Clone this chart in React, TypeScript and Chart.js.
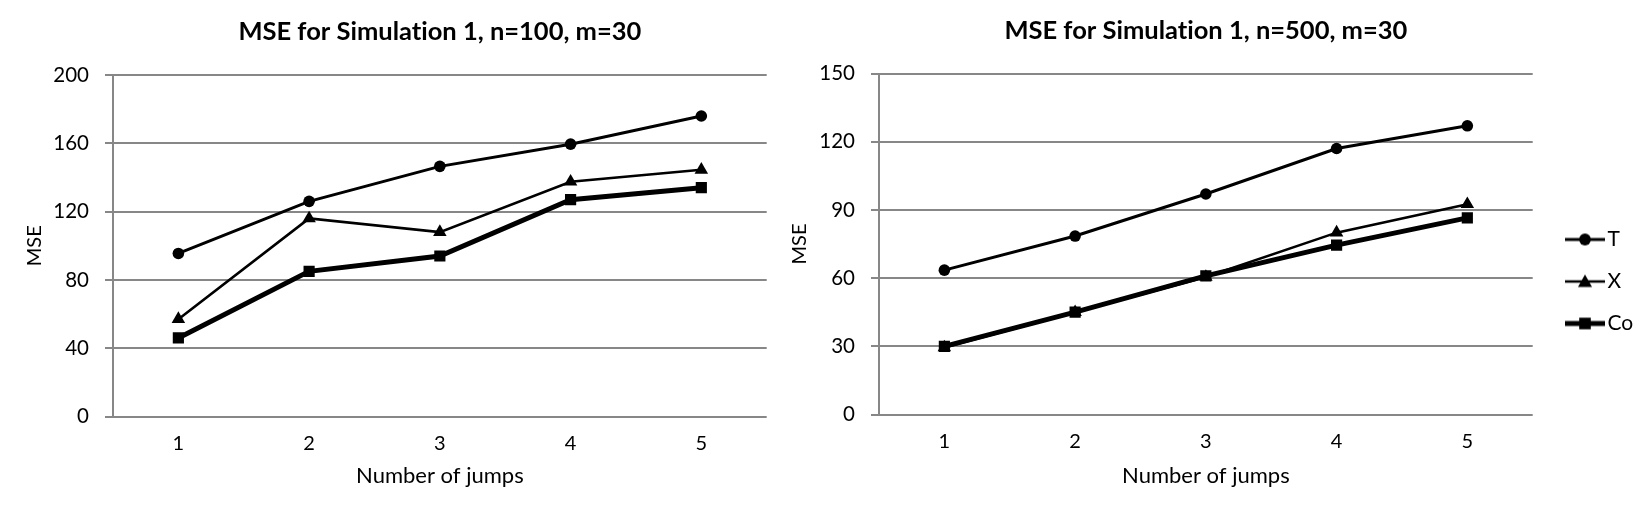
import React, { useEffect, useRef } from 'react';
import { Chart, registerables } from 'chart.js';

Chart.register(...registerables);

// ---------------- data ----------------
const categories = ['1', '2', '3', '4', '5'];
const seriesNames = ['T', 'X', 'Co'];

const leftT = [95.5, 126, 146.5, 159.5, 176];
const leftX = [57, 116, 108, 137.5, 144.5];
const leftCo = [46, 85, 94, 127, 134];

const rightT = [63.5, 78.5, 97, 117, 127];
const rightX = [29.5, 45, 60.5, 80, 92.5];
const rightCo = [30, 45, 61, 74.5, 86.5];

const leftTicks = [0, 40, 80, 120, 160, 200];
const rightTicks = [0, 30, 60, 90, 120, 150];

const leftTitle = 'MSE for Simulation 1, n=100, m=30';
const rightTitle = 'MSE for Simulation 1, n=500, m=30';
const xTitle = 'Number of jumps';
const yTitle = 'MSE';

// ---------------- styles ----------------
const FONT = 'Lato, "Liberation Sans", sans-serif';
const GRID = '#878787';
const H = 507;
const LEFT_W = 780;
const RIGHT_W = 864;

const seriesStyle = [
  { borderWidth: 3, pointStyle: 'circle', pointRadius: 5.8 },
  { borderWidth: 2.6, pointStyle: 'triangle', pointRadius: 7.8 },
  { borderWidth: 5, pointStyle: 'rect', pointRadius: 7.9 },
];

function makeLegendImage(i: number): HTMLCanvasElement {
  const c = document.createElement('canvas');
  c.width = 42;
  c.height = 18;
  const ctx = c.getContext('2d')!;
  const s = seriesStyle[i];
  ctx.fillStyle = '#000';
  ctx.strokeStyle = '#000';
  ctx.lineWidth = s.borderWidth;
  ctx.beginPath();
  ctx.moveTo(1, 9);
  ctx.lineTo(41, 9);
  ctx.stroke();
  ctx.beginPath();
  if (s.pointStyle === 'circle') {
    ctx.arc(21, 9, 5.9, 0, Math.PI * 2);
  } else if (s.pointStyle === 'triangle') {
    ctx.moveTo(21, 2);
    ctx.lineTo(28, 14.5);
    ctx.lineTo(14, 14.5);
    ctx.closePath();
  } else {
    ctx.rect(15.2, 3.2, 11.6, 11.6);
  }
  ctx.fill();
  return c;
}

interface Cfg {
  T: number[];
  X: number[];
  Co: number[];
  ticks: number[];
  title: string;
  width: number;
  yWidth: number;
  top: number;
  bottom: number;
  titleCenterY: number;
  yTitleCenterX: number;
  padRight: number;
  legend: boolean;
  legendImages?: HTMLCanvasElement[];
}

const LEGEND_LEFT = 772;
const LEGEND_TOP = 208;

const noLigatures = {
  id: 'noLigatures',
  beforeDraw(chart: any) {
    try {
      chart.ctx.textRendering = 'optimizeSpeed';
    } catch (e) {
      /* ignore */
    }
  },
};

function buildConfig(c: Cfg): any {
  const titleSize = 25.5;
  const titleLH = titleSize * 1.2;
  const titlePadTop = c.titleCenterY - titleLH / 2;
  const titlePadBottom = c.top - titleLH - titlePadTop;
  const yTitleLH = 20 * 1.2;
  const values = [c.T, c.X, c.Co];
  const datasets = values.map((v, i) => ({
    label: seriesNames[i],
    data: v,
    borderColor: '#000',
    backgroundColor: '#000',
    borderWidth: seriesStyle[i].borderWidth,
    pointStyle: seriesStyle[i].pointStyle,
    pointRadius: seriesStyle[i].pointRadius,
    pointBackgroundColor: '#000',
    pointBorderColor: '#000',
    pointBorderWidth: 0,
    tension: 0,
    fill: false,
    order: 3 - i,
  }));

  const plugins: any[] = [noLigatures];
  if (c.legend) {
    plugins.push({
      id: 'legendPlacer',
      afterLayout(chart: any) {
        const lg = chart.legend;
        if (!lg) return;
        const w = lg.width;
        const h = lg.height;
        lg.left = LEGEND_LEFT;
        lg.right = LEGEND_LEFT + w;
        lg.top = LEGEND_TOP;
        lg.bottom = LEGEND_TOP + h;
      },
    });
  }

  return {
    type: 'line',
    data: { labels: categories, datasets },
    plugins,
    options: {
      responsive: false,
      animation: false,
      devicePixelRatio: 1,
      events: [],
      color: '#000',
      layout: { padding: { left: 0, right: c.padRight, top: 0, bottom: 0 } },
      plugins: {
        tooltip: { enabled: false },
        title: {
          display: true,
          text: c.title,
          fullSize: false,
          color: '#000',
          font: { family: FONT, size: titleSize, weight: 'bold', lineHeight: 1.2 },
          padding: { top: titlePadTop, bottom: titlePadBottom },
        },
        legend: c.legend
          ? {
              display: true,
              position: 'right',
              align: 'start',
              labels: {
                usePointStyle: true,
                pointStyleWidth: 24,
                boxHeight: 20,
                padding: 21,
                color: '#000',
                font: { family: FONT, size: 21 },
                generateLabels: () =>
                  seriesNames.map((name, i) => ({
                    text: name,
                    pointStyle: c.legendImages![i],
                    fillStyle: '#000',
                    strokeStyle: '#000',
                    lineWidth: 0,
                    hidden: false,
                    datasetIndex: i,
                    fontColor: '#000',
                  })),
              },
            }
          : { display: false },
      },
      scales: {
        x: {
          type: 'category',
          offset: true,
          grid: { display: false, drawTicks: false },
          border: { display: false },
          ticks: {
            color: '#000',
            padding: 15,
            font: { family: FONT, size: 20 },
            maxRotation: 0,
          },
          title: {
            display: true,
            text: xTitle,
            color: '#000',
            font: { family: FONT, size: 22, lineHeight: 1.2 },
            padding: { top: 0, bottom: 17.5 },
          },
          afterFit: (s: any) => {
            s.height = H - c.bottom;
          },
        },
        y: {
          min: c.ticks[0],
          max: c.ticks[c.ticks.length - 1],
          grid: {
            color: GRID,
            lineWidth: 2,
            drawTicks: true,
            tickLength: 8,
          },
          border: { display: true, color: GRID, width: 2 },
          ticks: {
            color: '#000',
            padding: 16,
            font: { family: FONT, size: 20.5 },
          },
          afterBuildTicks: (s: any) => {
            s.ticks = c.ticks.map((v) => ({ value: v }));
          },
          title: {
            display: true,
            text: yTitle,
            color: '#000',
            font: { family: FONT, size: 20, lineHeight: 1.2 },
            padding: { top: c.yTitleCenterX - yTitleLH / 2, bottom: 0 },
          },
          afterFit: (s: any) => {
            s.width = c.yWidth;
          },
        },
      },
    },
  };
}

export default function App() {
  const leftRef = useRef<HTMLCanvasElement>(null);
  const rightRef = useRef<HTMLCanvasElement>(null);

  useEffect(() => {
    const legendImages = [0, 1, 2].map(makeLegendImage);
    const left = new Chart(
      leftRef.current!,
      buildConfig({
        T: leftT,
        X: leftX,
        Co: leftCo,
        ticks: leftTicks,
        title: leftTitle,
        width: LEFT_W,
        yWidth: 113,
        top: 75,
        bottom: 416.5,
        titleCenterY: 32,
        yTitleCenterX: 35,
        padRight: LEFT_W - 766.7,
        legend: false,
      })
    );
    const right = new Chart(
      rightRef.current!,
      buildConfig({
        T: rightT,
        X: rightX,
        Co: rightCo,
        ticks: rightTicks,
        title: rightTitle,
        width: RIGHT_W,
        yWidth: 99,
        top: 73.5,
        bottom: 414.5,
        titleCenterY: 31,
        yTitleCenterX: 20,
        padRight: 20,
        legend: true,
        legendImages,
      })
    );
    // second pass: make the plot area end where the reference does
    const lw = (right as any).legend ? (right as any).legend.width : 0;
    (right.options as any).layout.padding = {
      left: 0,
      top: 0,
      bottom: 0,
      right: RIGHT_W - 752.7 - lw,
    };
    right.update();
    return () => {
      left.destroy();
      right.destroy();
    };
  }, []);

  return (
    <div
      style={{
        position: 'absolute',
        left: 0,
        top: 0,
        width: 1644,
        height: H,
        background: '#fff',
      }}
    >
      <canvas
        ref={leftRef}
        width={LEFT_W}
        height={H}
        style={{ position: 'absolute', left: 0, top: 0, width: LEFT_W, height: H }}
      />
      <canvas
        ref={rightRef}
        width={RIGHT_W}
        height={H}
        style={{ position: 'absolute', left: LEFT_W, top: 0, width: RIGHT_W, height: H }}
      />
    </div>
  );
}
